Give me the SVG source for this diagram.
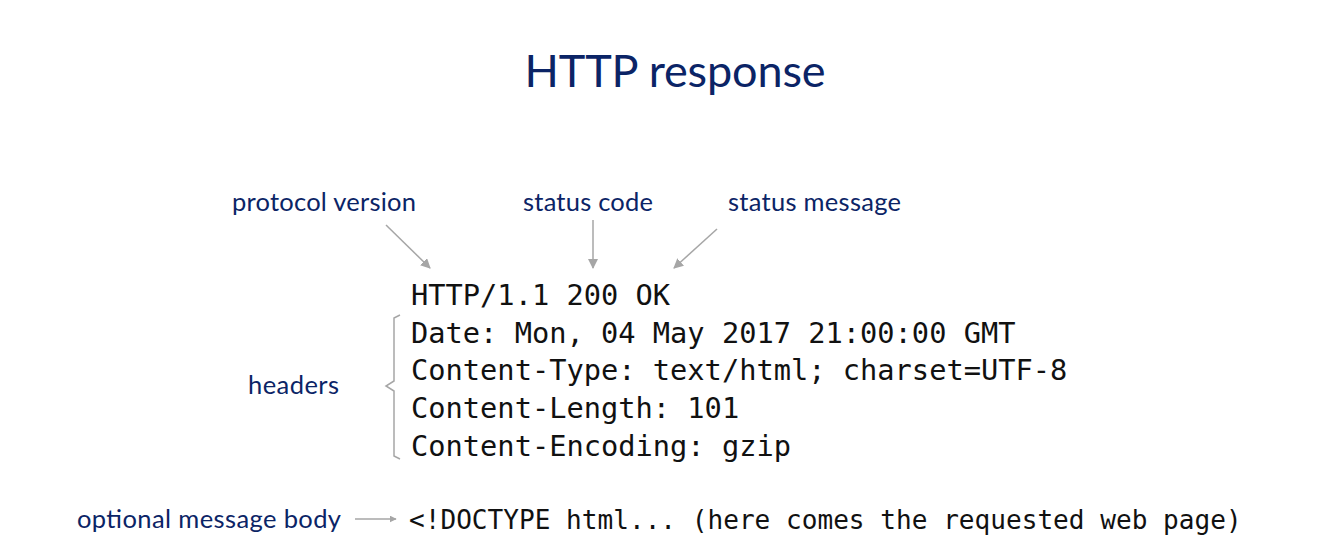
<svg xmlns="http://www.w3.org/2000/svg" width="1322" height="550" viewBox="0 0 1322 550">
<defs>
<style>
.lbl{font-family:Lato,"Open Sans","Liberation Sans",sans-serif;fill:#0b2466;font-size:25.5px}
.title{font-family:Lato,"Open Sans","Liberation Sans",sans-serif;fill:#0b2466;font-size:45px}
.code{font-family:"DejaVu Sans Mono","Liberation Mono",monospace;fill:#111;font-size:28.7px}
.body{font-family:"DejaVu Sans Mono","Liberation Mono",monospace;fill:#111;font-size:26.1px}
.conn{stroke:#a6a6a6;stroke-width:1.5;fill:none}
</style>
<marker id="ah" viewBox="0 0 10 10" refX="9" refY="5" markerWidth="7" markerHeight="7" orient="auto" markerUnits="userSpaceOnUse">
<path d="M0,0 L10,5 L0,10 z" fill="#a6a6a6"/>
</marker>
<marker id="ahb" viewBox="0 0 10 10" refX="9" refY="5" markerWidth="10" markerHeight="10" orient="auto" markerUnits="userSpaceOnUse">
<path d="M0,0 L10,5 L0,10 z" fill="#a6a6a6"/>
</marker>
</defs>
<rect width="1322" height="550" fill="#fff"/>
<g id="title"><text class="title" x="675" y="87" text-anchor="middle" textLength="301">HTTP response</text></g>
<g id="protocol-version"><text class="lbl" x="232" y="211" textLength="184">protocol version</text></g>
<g id="status-code"><text class="lbl" x="523" y="211" textLength="130">status code</text></g>
<g id="status-message"><text class="lbl" x="728" y="211" textLength="173">status message</text></g>
<g id="headers-label"><text class="lbl" x="248" y="394" textLength="91">headers</text></g>
<g id="body-label"><text class="lbl" x="77" y="528" textLength="264">optional message body</text></g>
<g id="response">
<text class="code" x="411" y="305">HTTP/1.1 200 OK</text>
<text class="code" x="411" y="343">Date: Mon, 04 May 2017 21:00:00 GMT</text>
<text class="code" x="411" y="380">Content-Type: text/html; charset=UTF-8</text>
<text class="code" x="411" y="418">Content-Length: 101</text>
<text class="code" x="411" y="456">Content-Encoding: gzip</text>
</g>
<g id="body"><text class="body" x="409" y="529">&lt;!DOCTYPE html... (here comes the requested web page)</text></g>
<g id="connectors">
<line class="conn" x1="386" y1="225" x2="430" y2="268" marker-end="url(#ahb)"/>
<line class="conn" x1="593" y1="220" x2="593" y2="268" marker-end="url(#ahb)"/>
<line class="conn" x1="717" y1="229" x2="674" y2="268" marker-end="url(#ahb)"/>
<line class="conn" x1="355" y1="519" x2="396" y2="519" marker-end="url(#ah)"/>
<path class="conn" d="M400,315 L394,318 L394,381 L386,386 L394,391 L394,456 L400,459"/>
</g>
</svg>
